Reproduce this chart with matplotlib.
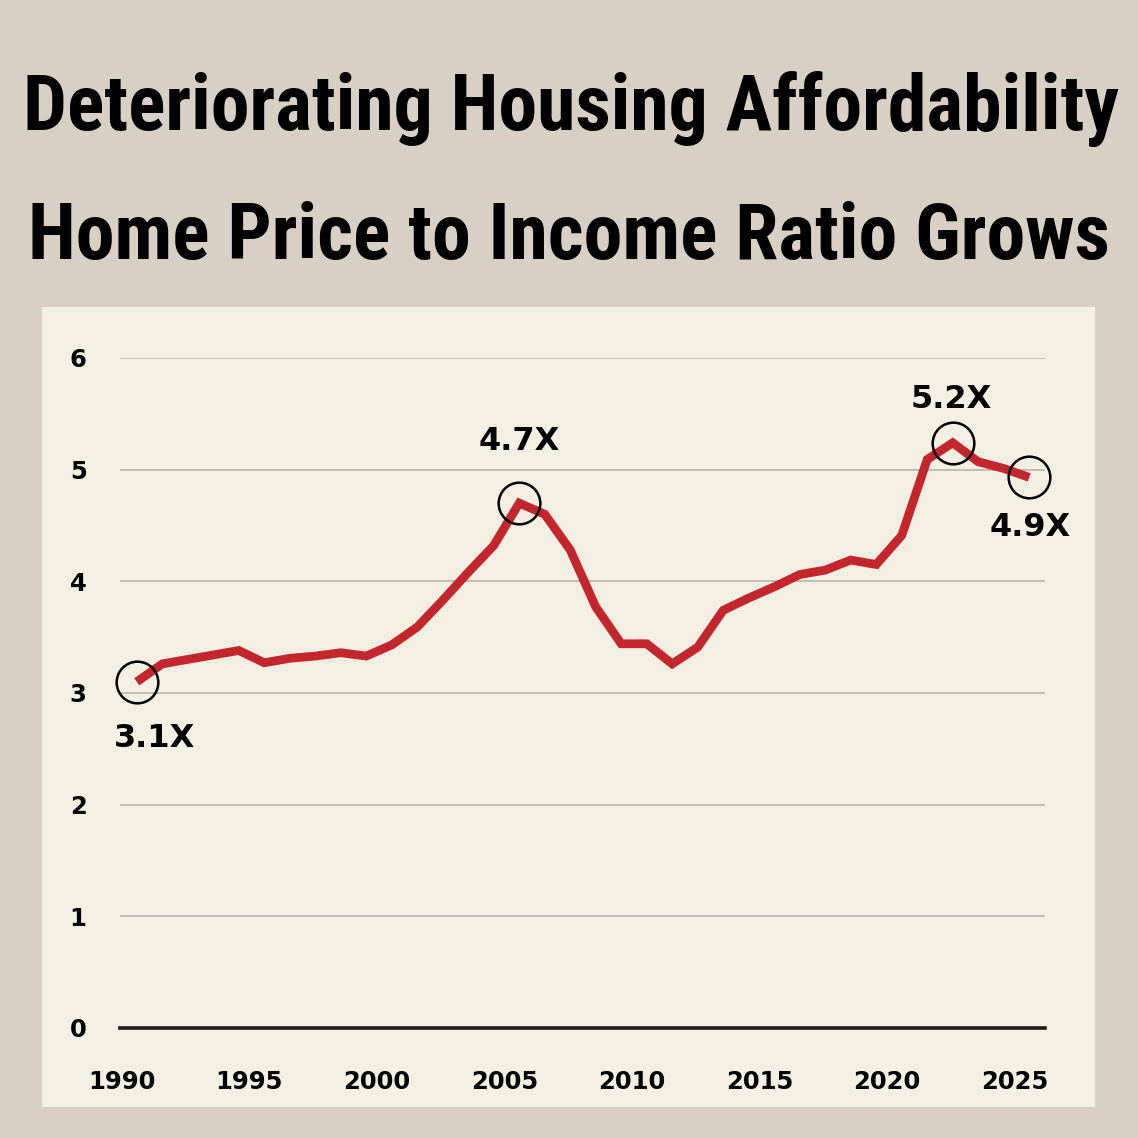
import numpy as np
import matplotlib
matplotlib.use('Agg')
import matplotlib.pyplot as plt
from matplotlib.patches import Rectangle
from matplotlib import font_manager

# home price to income ratio, one value per year
years = np.arange(1990, 2026)
ratio = [3.10, 3.26, 3.30, 3.34, 3.38, 3.27, 3.31, 3.33, 3.36, 3.33,
         3.43, 3.59, 3.83, 4.08, 4.32, 4.70, 4.60, 4.28, 3.77, 3.44,
         3.44, 3.26, 3.41, 3.74, 3.85, 3.95, 4.06, 4.10, 4.19, 4.15,
         4.41, 5.09, 5.24, 5.07, 5.01, 4.93]

# circled points and their labels
callout_years = [1990, 2005, 2022, 2025]
callout_text = ['3.1X', '4.7X', '5.2X', '4.9X']
callout_offset = [(13, -41), (0, 44), (-1, 31), (1, -36)]  # points

xtick_years = [1990, 1995, 2000, 2005, 2010, 2015, 2020, 2025]
ytick_vals = [0, 1, 2, 3, 4, 5, 6]

title1 = 'Deteriorating Housing Affordability'
title2 = 'Home Price to Income Ratio Grows'

midyear = 0.58   # values sit in the middle of each year

# pick a narrow bold face for the headline if one is around
have = {f.name for f in font_manager.fontManager.ttflist}
narrow = 'DejaVu Sans'
for name in ['Liberation Sans Narrow', 'DejaVu Sans Condensed',
             'Roboto Condensed', 'Open Sans Condensed', 'Roboto']:
    if name in have:
        narrow = name
        break

fig = plt.figure(figsize=(11.38, 11.38), dpi=100)
fig.patch.set_facecolor('#d9d0c5')

# cream card behind the chart
fig.patches.append(Rectangle((0.0369, 0.0272), 0.9253, 0.703,
                             transform=fig.transFigure, facecolor='#f4efe3',
                             edgecolor='none', zorder=-10))

t1 = fig.text(0.502, 0.8862, title1, ha='center', va='baseline',
              fontsize=51, fontweight='bold', family=narrow)
t2 = fig.text(0.500, 0.7720, title2, ha='center', va='baseline',
              fontsize=51, fontweight='bold', family=narrow)

# size the headline to the width it has in the source
fig.canvas.draw()
r = fig.canvas.get_renderer()
for t, target in [(t1, 1108), (t2, 1118)]:
    w = t.get_window_extent(r).width
    t.set_fontsize(min(51 * target / w, 56))

ax = fig.add_axes([0.1054, 0.0967, 0.8129, 0.5888])
ax.set_facecolor('none')

x = years + midyear
ax.plot(x, ratio, color='#c4262e', lw=6.3, solid_joinstyle='miter',
        solid_capstyle='butt', zorder=3)

for yr, txt, off in zip(callout_years, callout_text, callout_offset):
    i = list(years).index(yr)
    ax.plot(x[i], ratio[i], 'o', ms=30, mfc='none', mec='black', mew=1.8,
            zorder=4, clip_on=False)
    ax.annotate(txt, (x[i], ratio[i]), xytext=off, textcoords='offset points',
                ha='center', va='center', fontsize=23, fontweight='bold',
                family='DejaVu Sans', annotation_clip=False)

ax.set_xlim(1989.92, 2026.2)
ax.set_ylim(0, 6)

for v in ytick_vals[1:]:
    ax.axhline(v, color='#b3afa7', lw=1.1, zorder=1)
ax.axhline(0, color='#1a1a1a', lw=2.6, zorder=2, clip_on=False)

ax.set_xticks(xtick_years)
ax.set_xticklabels([str(t) for t in xtick_years])
ax.set_yticks(ytick_vals)
ax.set_yticklabels([str(t) for t in ytick_vals])
ax.tick_params(axis='both', length=0, labelsize=17.5)
ax.tick_params(axis='y', pad=24)
ax.tick_params(axis='x', pad=30)
for lab in ax.get_xticklabels() + ax.get_yticklabels():
    lab.set_fontweight('bold')
    lab.set_family('DejaVu Sans')

for s in ax.spines.values():
    s.set_visible(False)

fig.savefig('out.png', dpi=100, facecolor=fig.get_facecolor())
